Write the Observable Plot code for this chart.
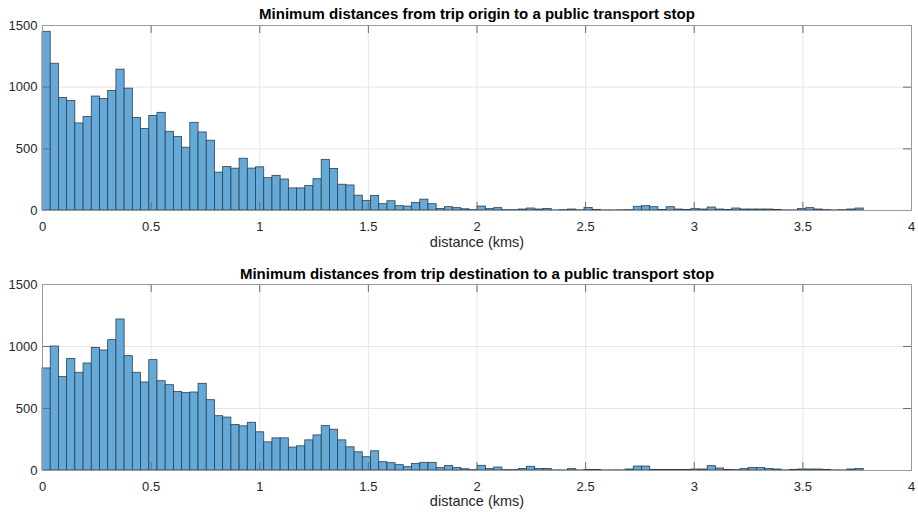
<!DOCTYPE html>
<html><head><meta charset="utf-8">
<script src="https://cdn.jsdelivr.net/npm/d3@7"></script>
<script src="https://cdn.jsdelivr.net/npm/@observablehq/plot@0.6"></script>
<style>body{margin:0;background:#fff} svg{display:block}</style>
</head><body><div id="chart"></div>
<script>
const binWidth = 0.0378;
const originCounts = [
  1449,1190,913,889,706,759,924,905,969,1142,988,751,660,767,792,638,595,509,711,633,566,307,353,339,
  420,340,350,262,281,251,179,179,198,254,409,337,209,203,120,78,118,51,75,35,32,62,88,51,13,27,19,10,
  3,32,11,19,3,3,8,16,8,13,1,3,8,2,21,5,1,1,2,3,30,35,27,5,27,8,5,11,8,24,8,5,16,8,8,8,8,5,1,1,13,19,8,3,1,3,8,16
];
const destCounts = [
  823,1000,753,900,788,863,989,968,1051,1218,922,788,710,890,720,688,634,624,629,699,567,438,427,368,
  356,385,308,227,259,259,185,195,243,283,358,329,243,187,147,107,155,67,59,43,27,53,62,62,19,37,21,10,
  3,38,11,24,3,3,13,30,13,13,1,1,11,1,5,5,1,1,1,8,32,32,5,5,5,5,5,8,8,35,16,5,3,11,21,21,13,8,1,5,8,8,8,5,1,1,8,13
];
const xTicks = [0, 0.5, 1, 1.5, 2, 2.5, 3, 3.5, 4];
const yTicks = [0, 500, 1000, 1500];
const titleOrigin = "Minimum distances from trip origin to a public transport stop";
const titleDest = "Minimum distances from trip destination to a public transport stop";
const xLabel = "distance (kms)";

function panel(counts, title, mt, mb, titleDy, labelDy) {
  const H = 256, W = 918, ml = 42, mr = 7;
  const fh = H - mt - mb, fw = W - ml - mr;
  const bins = counts.map((c, i) => ({x1: i * binWidth, x2: (i + 1) * binWidth, y: c}));
  const tickCol = "#6b6b6b", tl = 8;
  return Plot.plot({
    width: W, height: H, marginTop: mt, marginBottom: mb, marginLeft: ml, marginRight: mr,
    x: {domain: [0, 4], label: null},
    y: {domain: [0, 1500], label: null},
    style: {fontFamily: "'Liberation Sans', Arial, Helvetica, sans-serif", fontSize: "13px", color: "#262626", background: "#fff"},
    marks: [
      Plot.ruleX(xTicks, {x: d => d, stroke: "#e6e6e6"}),
      Plot.ruleY(yTicks, {y: d => d, stroke: "#e6e6e6"}),
      Plot.rectY(bins, {x1: "x1", x2: "x2", y: "y", fill: "#64a9d8", stroke: "#2f3f4f", strokeWidth: 0.8}),
      Plot.tickX(xTicks, {x: d => d, insetTop: fh - tl, stroke: tickCol}),
      Plot.tickX(xTicks, {x: d => d, insetBottom: fh - tl, stroke: tickCol}),
      Plot.tickY(yTicks, {y: d => d, insetRight: fw - tl, stroke: tickCol}),
      Plot.tickY(yTicks, {y: d => d, insetLeft: fw - tl, stroke: tickCol}),
      Plot.frame({stroke: "#9a9a9a"}),
      Plot.axisX(xTicks, {tickSize: 0, tickPadding: 11, tickFormat: d => String(d), fontSize: 13, label: null}),
      Plot.axisY(yTicks, {tickSize: 0, tickPadding: 5, tickFormat: d => String(d), fontSize: 13, label: null}),
      Plot.text([title], {text: d => d, frameAnchor: "top", lineAnchor: "middle", dy: titleDy, fontWeight: "bold", fontSize: 15, fill: "#000"}),
      Plot.text([xLabel], {text: d => d, frameAnchor: "bottom", lineAnchor: "middle", dy: labelDy, fontSize: 14.5})
    ]
  });
}

const root = document.getElementById("chart");
root.append(panel(originCounts, titleOrigin, 25, 46, -11, 32));
root.append(panel(destCounts, titleDest, 28, 42, -10, 31));
</script>
</body></html>
